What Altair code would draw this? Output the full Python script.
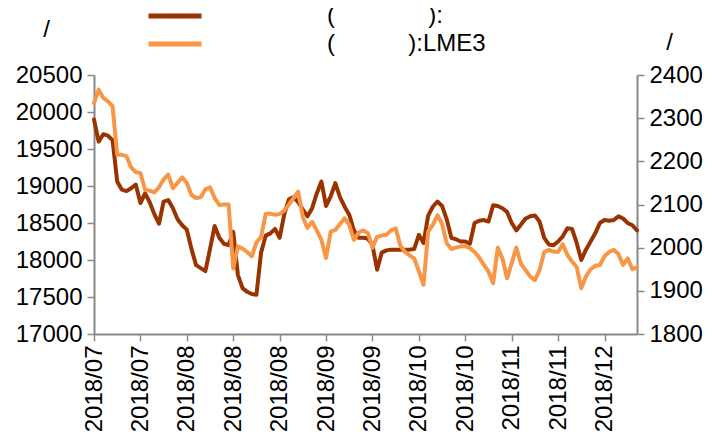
import json
import altair as alt
import pandas as pd

# ---- data ----
tick_labels = ["2018/07", "2018/07", "2018/08", "2018/08", "2018/08", "2018/09",
               "2018/09", "2018/10", "2018/10", "2018/11", "2018/11", "2018/12"]

left_series = [
    19900, 19600, 19700, 19680, 19620, 19060, 18950, 18930, 18970, 19020,
    18770, 18900, 18780, 18620, 18490, 18790, 18810, 18700, 18550, 18470,
    18410, 18150, 17930, 17890, 17850, 18150, 18460, 18300, 18220, 18200,
    18380, 17800, 17620, 17570, 17540, 17530, 18100, 18330, 18360, 18420,
    18300, 18620, 18820, 18850, 18780, 18680, 18590, 18700, 18900, 19060,
    18730, 18860, 19040, 18850, 18720, 18610, 18400, 18300, 18300, 18290,
    18200, 17870, 18100, 18130, 18140, 18140, 18140, 18140, 18140, 18150,
    18340, 18230, 18600, 18720, 18790, 18730, 18550, 18300, 18280, 18250,
    18250, 18220, 18500, 18530, 18540, 18520, 18740, 18730, 18700, 18650,
    18500, 18400, 18480, 18560, 18590, 18600, 18520, 18300, 18210, 18200,
    18250, 18320, 18430, 18420, 18230, 18000, 18140, 18250, 18360, 18500,
    18540, 18530, 18540, 18590, 18560, 18500, 18470, 18400,
]

right_series = [
    2335, 2366, 2347, 2339, 2328, 2215, 2215, 2212, 2186, 2175,
    2173, 2134, 2132, 2128, 2140, 2158, 2169, 2138, 2150, 2163,
    2150, 2122, 2115, 2117, 2135, 2140, 2115, 2099, 2100, 2100,
    1952, 2003, 1998, 1990, 1980, 2012, 2025, 2078, 2079, 2076,
    2078, 2086, 2100, 2115, 2130, 2070, 2046, 2060, 2040, 2018,
    1976, 2037, 2041, 2055, 2068, 2053, 2018, 2035, 2040, 2034,
    2000, 2025, 2028, 2030, 2040, 2045, 2005, 1990, 1982, 1975,
    1945, 1914, 2037, 2053, 2075, 2055, 2010, 1997, 2000, 2003,
    2003, 1999, 1990, 1977, 1960, 1945, 1918, 2000, 1975, 1929,
    1964, 2000, 1962, 1948, 1933, 1925, 1948, 1990, 1995, 1991,
    1990, 2008, 1983, 1968, 1955, 1906, 1933, 1950, 1958, 1960,
    1980, 1990, 1995, 1985, 1960, 1975, 1950, 1955,
]

NB = "\u00a0"
series_names = [
    "(" + NB * 14 + "):",
    "(" + NB * 11 + "):LME3",
]
colors = ["#993300", "#F79646"]

left_ticks = [17000, 17500, 18000, 18500, 19000, 19500, 20000, 20500]
right_ticks = [1800, 1900, 2000, 2100, 2200, 2300, 2400]

df = pd.DataFrame({
    "idx": list(range(len(left_series))),
    "left": left_series,
    "right": right_series,
})

FONT = "Liberation Sans"
FS = 24
GREY = "#888888"

label_expr = json.dumps(tick_labels) + "[round(datum.value / 10)]"

x_enc = alt.X(
    "idx:Q",
    scale=alt.Scale(domain=[0, len(left_series) - 1], nice=False, zero=False),
    axis=alt.Axis(
        values=list(range(0, len(left_series), 10)),
        labelExpr=label_expr,
        labelAngle=-90,
        labelFontSize=FS,
        labelFont=FONT,
        labelColor="black",
        labelPadding=4,
        tickSize=7,
        tickColor=GREY,
        tickWidth=1.5,
        domainColor=GREY,
        domainWidth=2,
        grid=False,
        title=None,
        labelOverlap=False,
    ),
)

color_scale = alt.Scale(domain=series_names, range=colors)
legend = alt.Legend(
    orient="none",
    legendX=52,
    legendY=-73,
    title=None,
    symbolType="stroke",
    symbolSize=2809,
    symbolStrokeWidth=5,
    labelFontSize=FS,
    labelFont=FONT,
    labelColor="black",
    labelLimit=0,
    labelOffset=123,
    clipHeight=28,
    rowPadding=-1,
    padding=0,
)
color_enc = alt.Color("series:N", scale=color_scale, legend=legend)

base = alt.Chart(df)


def y_axis(orient, ticks, tx, ty):
    return alt.Axis(
        orient=orient,
        values=ticks,
        format="d",
        labelFontSize=FS,
        labelFont=FONT,
        labelColor="black",
        labelPadding=5,
        tickSize=7,
        tickColor=GREY,
        tickWidth=1.5,
        domainColor=GREY,
        domainWidth=2,
        grid=False,
        title="/",
        titleAngle=0,
        titleX=tx,
        titleY=ty,
        titleAlign="center",
        titleBaseline="middle",
        titleFontSize=FS,
        titleFont=FONT,
        titleFontWeight="normal",
        titleColor="black",
    )


left_line = base.transform_calculate(
    series=json.dumps(series_names[0])
).mark_line(strokeWidth=4, strokeJoin="round", strokeCap="round").encode(
    x=x_enc,
    y=alt.Y(
        "left:Q",
        scale=alt.Scale(domain=[17000, 20500], nice=False, zero=False),
        axis=y_axis("left", left_ticks, -48, -46),
    ),
    color=color_enc,
)

right_line = base.transform_calculate(
    series=json.dumps(series_names[1])
).mark_line(strokeWidth=4, strokeJoin="round", strokeCap="round").encode(
    x=x_enc,
    y=alt.Y(
        "right:Q",
        scale=alt.Scale(domain=[1800, 2400], nice=False, zero=False),
        axis=y_axis("right", right_ticks, 32, -33),
    ),
    color=color_enc,
)

chart = (
    alt.layer(left_line, right_line)
    .resolve_scale(y="independent")
    .properties(
        width=543,
        height=259,
        autosize=alt.AutoSizeParams(type="none"),
        padding={"left": 86, "top": 67, "right": 68, "bottom": 99},
        background="white",
    )
    .configure_view(stroke=None)
)

chart.save("out.html", embed_options={"renderer": "svg", "actions": False})
